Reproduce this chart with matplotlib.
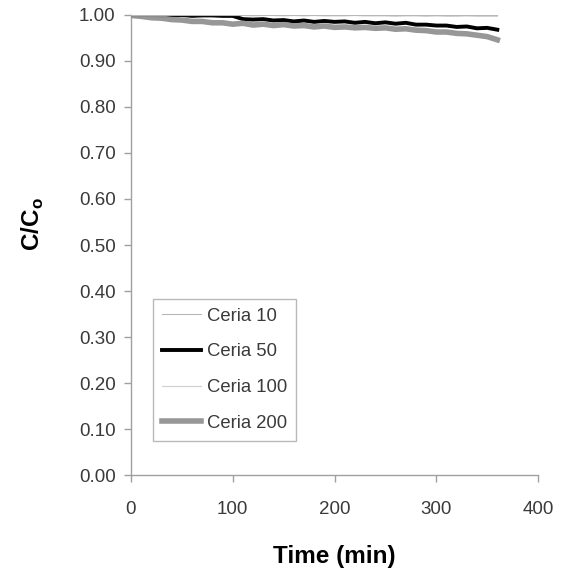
import matplotlib
matplotlib.use("Agg")
import matplotlib.pyplot as plt

plt.rcParams['font.family'] = ['Liberation Sans', 'DejaVu Sans']
plt.rcParams['mathtext.fontset'] = 'custom'
plt.rcParams['mathtext.rm'] = 'Liberation Sans'
plt.rcParams['mathtext.bf'] = 'Liberation Sans:bold'

time = [0, 10, 20, 30, 40, 50, 60, 70, 80, 90, 100, 110, 120, 130, 140, 150,
        160, 170, 180, 190, 200, 210, 220, 230, 240, 250, 260, 270, 280, 290,
        300, 310, 320, 330, 340, 350, 360]

ceria10 = [1.000, 1.000, 1.000, 1.000, 1.000, 1.000, 1.000, 1.000, 1.000, 1.000,
           1.000, 1.000, 1.000, 1.000, 1.000, 1.000, 1.000, 1.000, 1.000, 1.000,
           1.000, 1.000, 1.000, 1.000, 1.000, 1.000, 1.000, 1.000, 1.000, 1.000,
           1.000, 1.000, 1.000, 1.000, 1.000, 1.000, 1.000]

ceria100 = [1.000, 1.000, 0.999, 1.000, 0.999, 1.000, 0.999, 0.999, 1.000, 0.999,
            0.999, 0.999, 0.998, 0.999, 0.999, 0.998, 0.999, 0.998, 0.999, 0.998,
            0.998, 0.998, 0.999, 0.998, 0.998, 0.998, 0.997, 0.998, 0.998, 0.997,
            0.998, 0.997, 0.997, 0.998, 0.997, 0.997, 0.997]

ceria50 = [1.000, 0.999, 1.000, 0.998, 0.999, 1.000, 0.998, 0.999, 0.999, 0.998,
           0.998, 0.991, 0.990, 0.991, 0.988, 0.989, 0.986, 0.988, 0.985, 0.987,
           0.985, 0.986, 0.983, 0.985, 0.982, 0.984, 0.981, 0.983, 0.979, 0.979,
           0.977, 0.977, 0.974, 0.975, 0.971, 0.972, 0.968]

ceria200 = [0.999, 0.997, 0.994, 0.993, 0.990, 0.989, 0.986, 0.986, 0.983, 0.983,
            0.980, 0.982, 0.978, 0.980, 0.977, 0.979, 0.976, 0.977, 0.974, 0.976,
            0.973, 0.974, 0.972, 0.973, 0.971, 0.972, 0.969, 0.970, 0.967, 0.966,
            0.963, 0.963, 0.960, 0.959, 0.956, 0.953, 0.946]

fig = plt.figure(figsize=(5.72, 5.76), dpi=100)
ax = fig.add_axes([0.229, 0.1753, 0.7116, 0.7987])

ax.plot(time, ceria10, color='#b8b8b8', lw=0.8, label='Ceria 10', zorder=4)
ax.plot(time, ceria50, color='#000000', lw=2.8, label='Ceria 50', zorder=3)
ax.plot(time, ceria100, color='#cfcfcf', lw=0.8, label='Ceria 100', zorder=2)
ax.plot(time, ceria200, color='#929292', lw=4.0, label='Ceria 200', zorder=3.5, alpha=0.95)

ax.set_xlim(0, 400)
ax.set_ylim(0, 1.0)
ax.set_xticks([0, 100, 200, 300, 400])
ax.set_yticks([i / 10 for i in range(11)])
ax.set_yticklabels([f"{i/10:.2f}" for i in range(11)])

for s in ['top', 'right']:
    ax.spines[s].set_visible(False)
for s in ['left', 'bottom']:
    ax.spines[s].set_color('#a0a0a0')
    ax.spines[s].set_linewidth(1.0)
ax.tick_params(axis='both', direction='out', length=5, width=1.0,
               color='#a0a0a0', labelsize=13.5, labelcolor='#3a3a3a')
ax.tick_params(axis='x', pad=14)
ax.tick_params(axis='y', pad=6)

ax.set_xlabel('Time (min)', fontsize=17.5, fontweight='bold', labelpad=19)
ax.set_ylabel(r'C/C$_\mathbf{o}$', fontsize=17.5, fontweight='bold', labelpad=24)
ax.yaxis.label.set_y(0.546)

leg = ax.legend(loc='lower left', bbox_to_anchor=(0.054, 0.074), borderaxespad=0,
                fontsize=13.3, handlelength=2.1, labelspacing=1.01, handletextpad=0.3,
                frameon=True, fancybox=False, borderpad=0.5)
leg.get_frame().set_edgecolor('#a8a8a8')
leg.get_frame().set_linewidth(1.0)
for t in leg.get_texts():
    t.set_color('#3a3a3a')

fig.savefig('out.png', dpi=100)
